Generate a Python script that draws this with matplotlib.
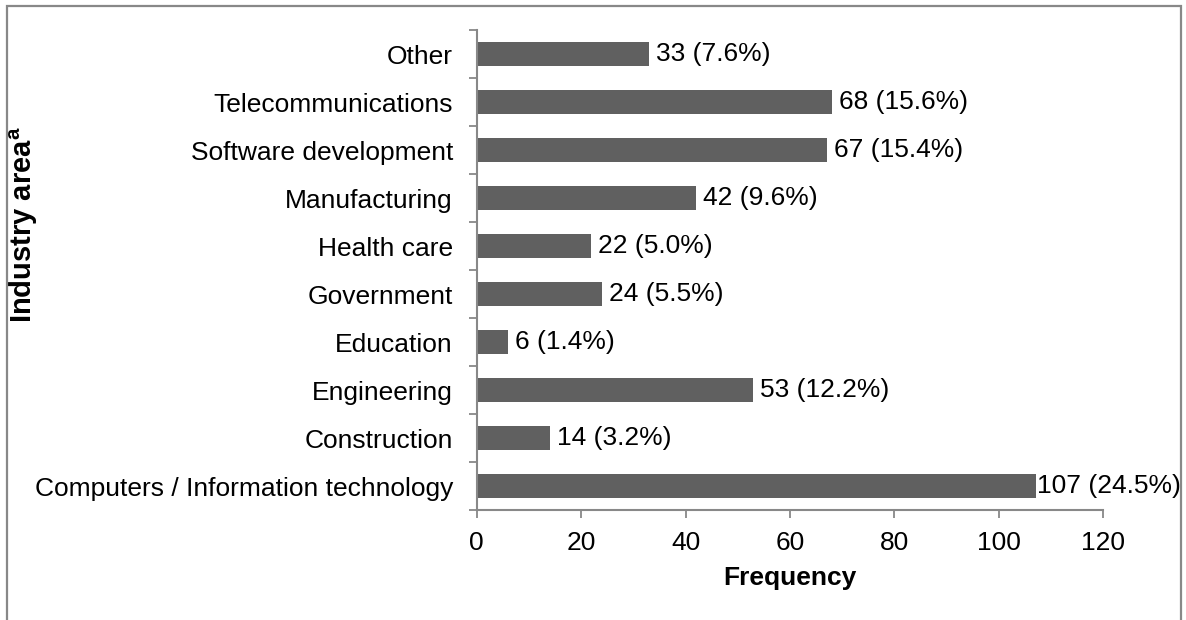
import matplotlib
matplotlib.use("Agg")
import matplotlib.pyplot as plt
from matplotlib.patches import Rectangle
from matplotlib.ticker import FixedLocator

plt.rcParams["font.family"] = ["Liberation Sans", "DejaVu Sans"]
plt.rcParams["mathtext.fontset"] = "custom"
plt.rcParams["mathtext.rm"] = "Liberation Sans"
plt.rcParams["mathtext.bf"] = "Liberation Sans:bold"

# 데이터 (아래에서 위 순서)
categories = ["Computers / Information technology", "Construction", "Engineering",
              "Education", "Government", "Health care", "Manufacturing",
              "Software development", "Telecommunications", "Other"]
counts = [107, 14, 53, 6, 24, 22, 42, 67, 68, 33]
percents = ["24.5", "3.2", "12.2", "1.4", "5.5", "5.0", "9.6", "15.4", "15.6", "7.6"]
x_ticks = [0, 20, 40, 60, 80, 100, 120]

grey = "#888888"
fs = 19

fig = plt.figure(figsize=(11.86, 6.2), dpi=100)
ax = fig.add_axes([0.4018, 0.1774, 0.5286, 0.7742])

ypos = list(range(len(categories)))
ax.barh(ypos, counts, height=0.48, color="#606060")

# 막대 라벨
for y, c, p in zip(ypos, counts, percents):
    off = 1 if c == max(counts) else 5
    ax.annotate(f"{c} ({p}%)", (c, y), xytext=(off, 0), textcoords="offset points",
                ha="left", va="center", fontsize=fs)

ax.set_xlim(0, 120)
ax.set_ylim(-0.5, len(categories) - 0.5)
ax.set_xticks(x_ticks)
ax.set_xticklabels([str(t) for t in x_ticks], fontsize=fs)
ax.set_yticks(ypos)
ax.set_yticklabels(categories, fontsize=fs)
ax.yaxis.set_minor_locator(FixedLocator([i - 0.5 for i in range(len(categories) + 1)]))

ax.tick_params(axis="y", which="major", length=0, pad=17)
ax.tick_params(axis="y", which="minor", length=6, width=1.3, color=grey, direction="out")
ax.tick_params(axis="x", which="major", length=6, width=1.3, color=grey, pad=9)

for s in ["top", "right"]:
    ax.spines[s].set_visible(False)
for s in ["left", "bottom"]:
    ax.spines[s].set_color(grey)
    ax.spines[s].set_linewidth(1.5)

ax.set_xlabel("Frequency", fontsize=fs, fontweight="bold", labelpad=8)
ax.set_ylabel(r"Industry area$^{\mathbf{a}}$", fontsize=21, fontweight="bold", va="center")
ax.yaxis.set_label_coords(-0.722, 0.595)

# 테두리
frame = Rectangle((7 / 1186, -0.1), 1174 / 1186, 1.1 - 6 / 620, transform=fig.transFigure,
                  fill=False, edgecolor=grey, linewidth=1.6, clip_on=False)
fig.patches.append(frame)

fig.savefig("out.png", dpi=100)
